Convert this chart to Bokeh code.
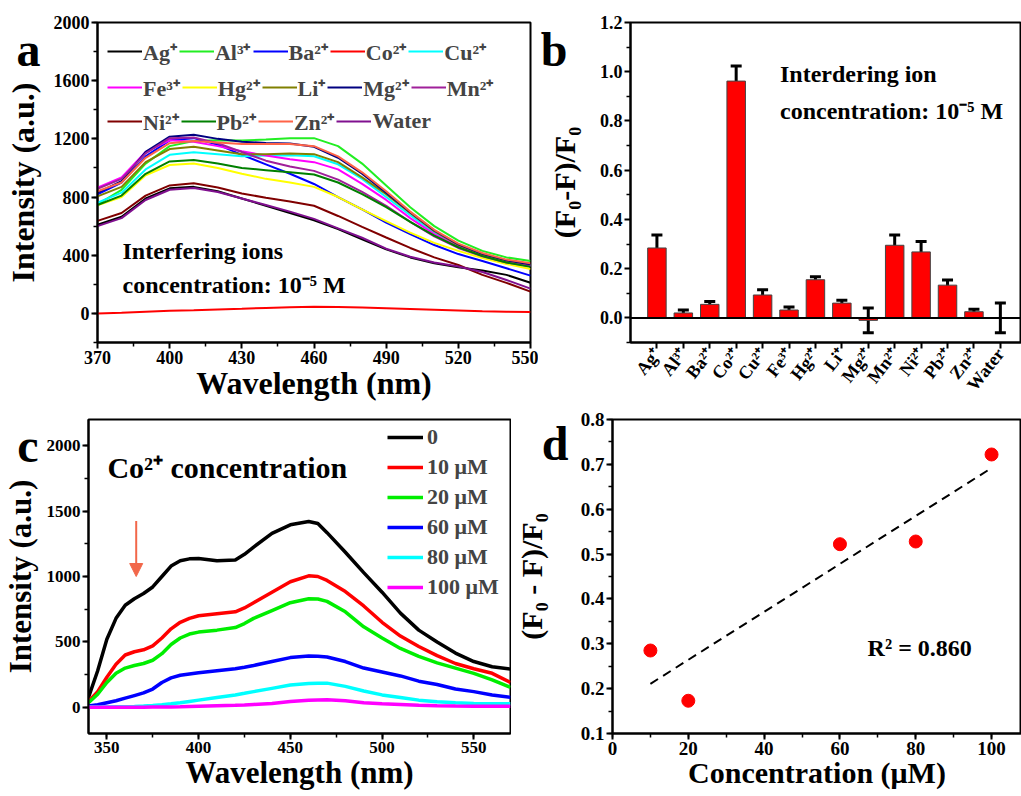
import math
import numpy as np
from bokeh.plotting import figure
from bokeh.models import (Legend, LegendItem, Label, Whisker, TeeHead, Arrow, NormalHead,
                          ColumnDataSource, FixedTicker, Span, LinearAxis,
                          SingleIntervalTicker, NumeralTickFormatter)
from bokeh.layouts import column, row
from bokeh.embed import file_html
from bokeh.resources import INLINE

FONT = "Liberation Serif"

# ---------------- Panel a data ----------------
wl_a = [370, 380, 390, 400, 410, 420, 430, 440, 450, 460, 470, 480, 490, 500, 510, 520, 530, 540, 550]
ticks_a_x = [370, 400, 430, 460, 490, 520, 550]
minor_a_x = [385, 415, 445, 475, 505, 535]
ions_a = ["Ag⁺", "Al³⁺", "Ba²⁺", "Co²⁺", "Cu²⁺", "Fe³⁺", "Hg²⁺", "Li⁺", "Mg²⁺", "Mn²⁺",
          "Ni²⁺", "Pb²⁺", "Zn²⁺", "Water"]
colors_a = ["#000000", "#22EE22", "#0000FF", "#FF0000", "#00FFFF", "#FF00FF", "#FFFF00", "#808000",
            "#000080", "#A0209A", "#800000", "#008000", "#FF6347", "#80108F"]
ag = [610, 665, 790, 860, 870, 840, 790, 740, 690, 640, 580, 510, 440, 385, 345, 317, 295, 265, 211]
al = [750, 850, 1030, 1150, 1185, 1190, 1188, 1195, 1205, 1205, 1150, 1030, 880, 730, 600, 500, 430, 385, 361]
ba = [818, 900, 1080, 1190, 1205, 1160, 1090, 1025, 960, 890, 800, 715, 625, 545, 470, 408, 360, 310, 260]
co = [0, 5, 12, 18, 22, 27, 32, 38, 43, 45, 44, 40, 35, 30, 25, 20, 15, 12, 10]
cu = [761, 830, 990, 1090, 1108, 1095, 1080, 1085, 1088, 1080, 1025, 925, 800, 675, 555, 465, 405, 360, 330]
fe = [864, 935, 1110, 1190, 1180, 1150, 1115, 1085, 1060, 1040, 990, 890, 780, 655, 545, 460, 400, 355, 330]
hg = [743, 800, 950, 1020, 1030, 1000, 960, 925, 900, 870, 800, 715, 635, 555, 485, 430, 380, 340, 305]
li = [805, 870, 1040, 1130, 1145, 1120, 1095, 1095, 1100, 1095, 1040, 935, 820, 690, 565, 472, 408, 362, 335]
mg = [830, 910, 1110, 1215, 1228, 1200, 1180, 1172, 1168, 1145, 1070, 960, 830, 695, 570, 475, 410, 365, 335]
mn = [857, 925, 1100, 1205, 1210, 1170, 1110, 1050, 1010, 980, 920, 835, 740, 630, 530, 450, 392, 350, 325]
ni = [636, 690, 810, 880, 895, 865, 825, 795, 770, 740, 670, 595, 522, 450, 385, 333, 265, 210, 150]
pb = [745, 810, 960, 1045, 1055, 1030, 1000, 985, 970, 955, 900, 820, 730, 630, 535, 455, 395, 350, 320]
zn = [840, 900, 1070, 1170, 1185, 1175, 1165, 1165, 1165, 1150, 1080, 970, 840, 700, 575, 480, 415, 370, 345]
water = [600, 655, 780, 850, 862, 835, 790, 745, 700, 650, 585, 520, 445, 390, 350, 323, 285, 230, 170]
series_a = [ag, al, ba, co, cu, fe, hg, li, mg, mn, ni, pb, zn, water]

# ---------------- Panel b data ----------------
ions_b = ["Ag⁺", "Al³⁺", "Ba²⁺", "Co²⁺", "Cu²⁺", "Fe³⁺", "Hg²⁺", "Li⁺", "Mg²⁺", "Mn²⁺",
          "Ni²⁺", "Pb²⁺", "Zn²⁺", "Water"]
ratio_b = [0.284, 0.020, 0.055, 0.962, 0.093, 0.032, 0.155, 0.060, -0.010, 0.295, 0.268, 0.133, 0.025, 0.000]
err_b = [0.053, 0.012, 0.012, 0.061, 0.021, 0.012, 0.012, 0.012, 0.050, 0.042, 0.042, 0.021, 0.010, 0.060]
ticks_b_y = [0.0, 0.2, 0.4, 0.6, 0.8, 1.0, 1.2]
minor_b_y = [-0.1, 0.1, 0.3, 0.5, 0.7, 0.9, 1.1]

# ---------------- Panel c data ----------------
wl_c = [340, 345, 350, 355, 360, 365, 370, 375, 380, 385, 390, 395, 400, 410, 420, 425, 430, 440,
        450, 460, 465, 470, 480, 490, 500, 510, 520, 530, 540, 550, 560, 570]
conc_labels = ["0", "10 μM", "20 μM", "60 μM", "80 μM", "100 μM"]
colors_c = ["#000000", "#FF0000", "#00EE00", "#0000FF", "#00FFFF", "#FF00FF"]
c0 = [76, 280, 520, 680, 780, 830, 870, 920, 1000, 1080, 1120, 1135, 1138, 1120, 1126, 1170, 1225, 1330,
      1395, 1420, 1405, 1335, 1185, 1030, 880, 720, 590, 500, 415, 350, 310, 292]
c10 = [45, 120, 230, 330, 400, 425, 440, 470, 530, 600, 650, 680, 700, 715, 730, 760, 800, 880,
       960, 1005, 1000, 970, 885, 775, 650, 545, 465, 395, 335, 295, 260, 190]
c20 = [35, 100, 190, 260, 300, 320, 335, 360, 410, 480, 530, 560, 575, 590, 610, 640, 680, 740,
       800, 830, 828, 810, 730, 615, 530, 450, 390, 340, 300, 260, 210, 152]
c60 = [10, 20, 35, 50, 70, 90, 110, 140, 190, 225, 245, 255, 265, 280, 295, 307, 320, 350,
       380, 392, 390, 385, 350, 300, 270, 240, 200, 175, 140, 120, 95, 76]
c80 = [2, 2, 3, 4, 5, 7, 10, 14, 20, 27, 35, 45, 55, 75, 95, 107, 120, 145,
       170, 183, 185, 185, 160, 125, 95, 75, 55, 42, 35, 30, 28, 28]
c100 = [0, 0, 0, 0, 0, 1, 1, 2, 2, 3, 4, 6, 8, 12, 15, 18, 22, 30,
        45, 55, 57, 58, 50, 35, 28, 22, 15, 12, 10, 9, 8, 8]
series_c = [c0, c10, c20, c60, c80, c100]

# ---------------- Panel d data ----------------
conc_d = [10, 20, 60, 80, 100]
ratio_d = [0.285, 0.173, 0.522, 0.528, 0.722]


def style(p, tick_size="18px", label_size="32px"):
    for ax in list(p.xaxis) + list(p.yaxis):
        ax.axis_line_width = 2
        ax.major_tick_line_width = 2
        ax.minor_tick_line_width = 1.5
        ax.major_tick_in = 0
        ax.major_tick_out = 6
        ax.minor_tick_in = 0
        ax.minor_tick_out = 4
        ax.major_label_text_font = FONT
        ax.major_label_text_font_style = "bold"
        ax.major_label_text_font_size = tick_size
        ax.major_label_text_color = "black"
        ax.axis_label_text_font = FONT
        ax.axis_label_text_font_style = "bold"
        ax.axis_label_text_font_size = label_size
        ax.axis_label_text_color = "black"
        ax.major_label_standoff = 2
    p.grid.visible = False
    p.outline_line_color = "black"
    p.outline_line_width = 2
    p.outline_line_alpha = 1


def label(p, x, y, text, size, align="left"):
    p.add_layout(Label(x=x, y=y, text=text, text_font=FONT, text_font_style="bold",
                       text_font_size=size, text_align=align, text_baseline="alphabetic",
                       text_color="black"))


def outer_axis(p, letter_y, letter, ylabel, label_size, letter_standoff, label_standoff):
    """Outer left axis: carries the panel letter (as its only tick label) and the y title."""
    ax = LinearAxis(ticker=FixedTicker(ticks=[letter_y]),
                    major_label_overrides={letter_y: letter},
                    axis_line_color=None, major_tick_line_color=None, minor_tick_line_color=None,
                    major_tick_in=0, major_tick_out=0, minor_tick_in=0, minor_tick_out=0,
                    major_label_standoff=letter_standoff,
                    major_label_text_font=FONT, major_label_text_font_style="bold",
                    major_label_text_font_size="48px", major_label_text_color="black",
                    axis_label=ylabel, axis_label_standoff=label_standoff,
                    axis_label_text_font=FONT, axis_label_text_font_style="bold",
                    axis_label_text_font_size=label_size, axis_label_text_color="black")
    p.add_layout(ax, "left")


# ================= Panel a =================
pa = figure(width=538, height=408, x_range=(370, 550), y_range=(-200, 2000),
            output_backend="svg", toolbar_location=None,
            min_border_left=97, min_border_right=8, min_border_top=22, min_border_bottom=66)
rends = []
for ys, col in zip(series_a, colors_a):
    rends.append(pa.line(wl_a, ys, line_color=col, line_width=2))
style(pa, "18px", "32px")
pa.xaxis.ticker = FixedTicker(ticks=ticks_a_x, minor_ticks=minor_a_x)
pa.yaxis.ticker = SingleIntervalTicker(interval=400, num_minor_ticks=2)
pa.xaxis.axis_label = "Wavelength (nm)"
pa.xaxis.axis_label_standoff = -2
outer_axis(pa, 1817, "a", "Intensity (a.u.)", "32px", 10, -27)
rows_idx = [[0, 1, 2, 3, 4], [5, 6, 7, 8, 9], [10, 11, 12, 13]]
row_y = [276, 240, 206]
for idxs, yy in zip(rows_idx, row_y):
    leg = Legend(items=[LegendItem(label=ions_a[i], renderers=[rends[i]]) for i in idxs],
                 orientation="horizontal", location=(10, yy),
                 glyph_width=35, glyph_height=24, label_height=24, label_standoff=1,
                 spacing=2, padding=0, margin=0, border_line_color=None,
                 background_fill_alpha=0, label_text_font=FONT, label_text_font_style="bold",
                 label_text_font_size="22px")
    pa.add_layout(leg)
label(pa, 380.4, 428, "Interfering ions", "24px")
label(pa, 380.4, 193, "concentration: 10⁻⁵ M", "24px")

# ================= Panel b =================
xb = list(range(1, len(ions_b) + 1))
src_b = ColumnDataSource(dict(x=xb, top=ratio_b,
                              upper=[v + e for v, e in zip(ratio_b, err_b)],
                              lower=[v - e for v, e in zip(ratio_b, err_b)]))
pb_ = figure(width=483, height=408, x_range=(0, 14.8), y_range=(-0.1, 1.2),
             output_backend="svg", toolbar_location=None,
             min_border_left=92, min_border_right=0, min_border_top=22, min_border_bottom=66)
pb_.vbar(x="x", top="top", width=0.7, source=src_b, fill_color="#FF0000",
         line_color="#444444", line_width=1)
pb_.add_layout(Span(location=0, dimension="width", line_color="black", line_width=2))
pb_.add_layout(Whisker(base="x", upper="upper", lower="lower", source=src_b,
                       line_width=3, line_color="black",
                       upper_head=TeeHead(size=11, line_width=3, line_color="black"),
                       lower_head=TeeHead(size=11, line_width=3, line_color="black")))
style(pb_, "18px", "30px")
xb_axis = pb_.below[0]
xb_axis.ticker = FixedTicker(ticks=xb)
xb_axis.major_label_overrides = {i: n for i, n in zip(xb, ions_b)}
xb_axis.major_label_orientation = math.radians(52)
pb_.yaxis.ticker = FixedTicker(ticks=ticks_b_y, minor_ticks=minor_b_y)
pb_.yaxis.formatter = NumeralTickFormatter(format="0.0")
outer_axis(pb_, 1.091, "b", "(F₀-F)/F₀", "30px", 29, -43)
label(pb_, 5.66, 0.992, "Interdering ion", "24px")
label(pb_, 5.66, 0.841, "concentration: 10⁻⁵ M", "24px")

# ================= Panel c =================
pc = figure(width=511, height=388, x_range=(340, 570), y_range=(-200, 2200),
            output_backend="svg", toolbar_location=None,
            min_border_left=87, min_border_right=1, min_border_top=11, min_border_bottom=63)
rc = []
for ys, col in zip(series_c, colors_c):
    rc.append(pc.line(wl_c, ys, line_color=col, line_width=3.5))
style(pc, "17px", "31px")
pc.xaxis.ticker = SingleIntervalTicker(interval=50, num_minor_ticks=2)
pc.yaxis.ticker = SingleIntervalTicker(interval=500, num_minor_ticks=2)
pc.xaxis.axis_label = "Wavelength (nm)"
pc.xaxis.major_label_standoff = 2
pc.xaxis.axis_label_standoff = -1
outer_axis(pc, 2160, "c", "Intensity (a.u.)", "31px", 5, -24)
legc = Legend(items=[LegendItem(label=l, renderers=[r]) for l, r in zip(conc_labels, rc)],
              location=(299, 131), glyph_width=36, glyph_height=30, label_height=30,
              label_standoff=4, spacing=0, padding=0, margin=0, border_line_color=None,
              background_fill_alpha=0, label_text_font=FONT, label_text_font_style="bold",
              label_text_font_size="22px")
pc.add_layout(legc)
pc.add_layout(Arrow(end=NormalHead(size=13, fill_color="#F2674A", line_color="#F2674A"),
                    x_start=366, y_start=1425, x_end=366, y_end=1000,
                    line_color="#F2674A", line_width=2))
label(pc, 350.3, 1830, "Co²⁺ concentration", "30px")

# ================= Panel d =================
pd_ = figure(width=510, height=388, x_range=(0, 107.9), y_range=(0.1, 0.8),
             output_backend="svg", toolbar_location=None,
             min_border_left=100, min_border_right=0, min_border_top=11, min_border_bottom=63)
coef = np.polyfit(conc_d, ratio_d, 1)
fx = [min(conc_d), max(conc_d)]
pd_.line(fx, list(np.polyval(coef, fx)), line_color="black", line_width=2, line_dash="9 6")
pd_.scatter(conc_d, ratio_d, size=13, fill_color="#FF0000", line_color="#FF0000")
style(pd_, "19px", "30px")
pd_.xaxis.ticker = SingleIntervalTicker(interval=20, num_minor_ticks=2)
pd_.yaxis.ticker = SingleIntervalTicker(interval=0.1, num_minor_ticks=2)
pd_.yaxis.formatter = NumeralTickFormatter(format="0.0")
pd_.xaxis.axis_label = "Concentration (μM)"
pd_.xaxis.axis_label_standoff = -2
outer_axis(pd_, 0.785, "d", "(F₀ - F)/F₀", "30px", 9, -9)
label(pd_, 67.3, 0.291, "R² = 0.860", "24px")

layout = column(row(pa, pb_), row(pc, pd_))
open("out.html", "w").write(file_html(layout, INLINE))
